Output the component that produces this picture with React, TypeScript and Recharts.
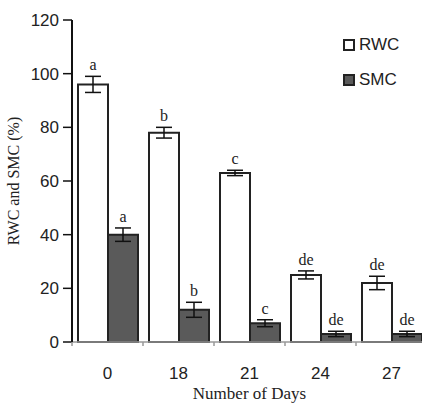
import React from "react";
import {
  BarChart,
  Bar,
  XAxis,
  YAxis,
  ErrorBar,
  LabelList,
} from "recharts";

const days = ["0", "18", "21", "24", "27"];
const rwc = [96, 78, 63, 25, 22];
const rwcErr = [3, 2, 1, 1.5, 2.5];
const rwcLetters = ["a", "b", "c", "de", "de"];
const smc = [40, 12, 7, 3, 3];
const smcErr = [2.5, 2.8, 1.3, 1, 1];
const smcLetters = ["a", "b", "c", "de", "de"];
const yTicks = [0, 20, 40, 60, 80, 100, 120];
const legendItems = [
  { name: "RWC", fill: "#fff" },
  { name: "SMC", fill: "#5a5a5a" },
];

const data = days.map((d, i) => ({
  day: d,
  rwc: rwc[i],
  rwcErr: rwcErr[i],
  smc: smc[i],
  smcErr: smcErr[i],
}));

const W = 428;
const H = 406;
const TOP = 20;
const LEFT = 72;
const PLOT_H = 322;
const PLOT_W = 355;
const AXIS_Y = TOP + PLOT_H;
const HALF_BAND = PLOT_W / days.length / 2;

const SANS = "'Liberation Sans', Arial, sans-serif";
const SERIF = "'Liberation Serif', 'Times New Roman', serif";

const XTick = (props: any) => {
  const { x, payload } = props;
  return (
    <g>
      <line
        x1={x - HALF_BAND}
        x2={x - HALF_BAND}
        y1={AXIS_Y}
        y2={AXIS_Y + 4}
        stroke="#999"
        strokeWidth={1.5}
      />
      <text
        x={x}
        y={AXIS_Y + 37}
        textAnchor="middle"
        fontFamily={SANS}
        fontSize={17}
        fill="#222"
      >
        {payload.value}
      </text>
    </g>
  );
};

const letterLabel = (letters: string[], errs: number[]) => (props: any) => {
  const { x, y, width, height, value, index } = props;
  const pxPerUnit = value ? height / value : 0;
  const top = y - errs[index] * pxPerUnit;
  return (
    <text
      x={x + width / 2}
      y={top - 6}
      textAnchor="middle"
      fontFamily={SERIF}
      fontSize={16}
      fill="#222"
    >
      {letters[index]}
    </text>
  );
};

export default function App() {
  return (
    <div
      style={{
        position: "absolute",
        left: 0,
        top: 0,
        width: 422,
        height: H,
        overflow: "hidden",
        background: "#fff",
      }}
    >
      <BarChart
        width={W}
        height={H}
        data={data}
        margin={{ top: TOP, right: W - LEFT - PLOT_W, bottom: 0, left: 0 }}
        barGap={0}
        barSize={30}
      >
        <XAxis
          dataKey="day"
          height={H - AXIS_Y}
          axisLine={{ stroke: "#999", strokeWidth: 1.5 }}
          tickLine={false}
          tick={<XTick />}
          interval={0}
          label={{
            value: "Number of Days",
            position: "insideBottom",
            offset: 7,
            fontFamily: SERIF,
            fontSize: 17,
            fill: "#222",
          }}
        />
        <XAxis
          xAxisId="top"
          dataKey="day"
          orientation="top"
          height={0}
          tick={false}
          tickLine={false}
          axisLine={{ stroke: "#111", strokeWidth: 1.5 }}
        />
        <YAxis
          width={LEFT}
          domain={[0, 120]}
          ticks={yTicks}
          interval={0}
          axisLine={{ stroke: "#111", strokeWidth: 2 }}
          tickLine={{ stroke: "#111", strokeWidth: 1.5 }}
          tickSize={9}
          tickMargin={4}
          tick={{ fontFamily: SANS, fontSize: 17, fill: "#222" }}
          label={{
            value: "RWC and SMC (%)",
            angle: -90,
            position: "insideLeft",
            offset: 13,
            style: { textAnchor: "middle" },
            fontFamily: SERIF,
            fontSize: 16,
            fill: "#222",
          }}
        />
        <Bar
          dataKey="rwc"
          name="RWC"
          fill="#fff"
          stroke="#222"
          strokeWidth={2}
          isAnimationActive={false}
        >
          <ErrorBar dataKey="rwcErr" width={8} stroke="#111" strokeWidth={1.5} />
          <LabelList dataKey="rwc" content={letterLabel(rwcLetters, rwcErr)} />
        </Bar>
        <Bar
          dataKey="smc"
          name="SMC"
          fill="#5a5a5a"
          stroke="#222"
          strokeWidth={2}
          isAnimationActive={false}
        >
          <ErrorBar dataKey="smcErr" width={8} stroke="#111" strokeWidth={1.5} />
          <LabelList dataKey="smc" content={letterLabel(smcLetters, smcErr)} />
        </Bar>
      </BarChart>
      <div style={{ position: "absolute", left: 343, top: 27 }}>
        {legendItems.map((it) => (
          <div
            key={it.name}
            style={{
              display: "flex",
              alignItems: "center",
              height: 35,
              fontFamily: SANS,
              fontSize: 17,
              color: "#222",
            }}
          >
            <span
              style={{
                width: 8,
                height: 8,
                border: "2px solid #222",
                background: it.fill,
                marginRight: 4,
                display: "inline-block",
              }}
            />
            {it.name}
          </div>
        ))}
      </div>
    </div>
  );
}
